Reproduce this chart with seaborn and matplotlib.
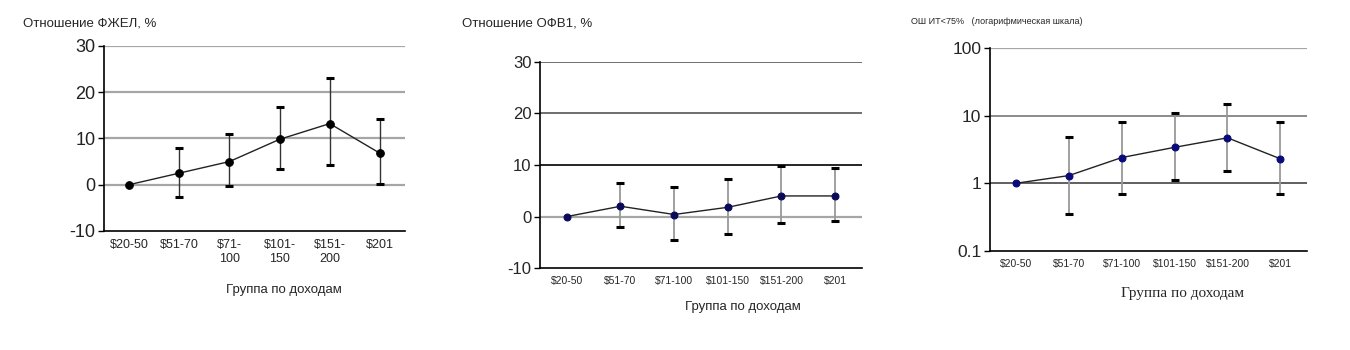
import matplotlib
matplotlib.use("Agg")
import matplotlib.pyplot as plt
import seaborn as sns
import numpy as np
import pandas as pd

# ---- data ----
groups1 = ["$20-50", "$51-70", "$71-\n100", "$101-\n150", "$151-\n200", "$201"]
groups = ["$20-50", "$51-70", "$71-100", "$101-150", "$151-200", "$201"]

fvc = [0.0, 2.5, 5.0, 9.8, 13.2, 6.8]
fvc_lo = [0.0, -2.7, -0.2, 3.5, 4.2, 0.2]
fvc_hi = [0.0, 8.0, 11.0, 16.8, 23.0, 14.2]

fev = [0.0, 2.0, 0.4, 1.8, 4.0, 4.0]
fev_lo = [0.0, -2.1, -4.5, -3.3, -1.3, -0.9]
fev_hi = [0.0, 6.6, 5.8, 7.3, 9.8, 9.5]

orr = [1.0, 1.3, 2.4, 3.4, 4.7, 2.3]
orr_lo = [1.0, 0.35, 0.7, 1.12, 1.5, 0.7]
orr_hi = [1.0, 4.9, 8.0, 11.0, 15.0, 8.0]

sns.set_style("white")
plt.rcParams['font.family'] = ['Liberation Sans', 'DejaVu Sans']
plt.rcParams['axes.unicode_minus'] = False

fig = plt.figure(figsize=(13.5, 3.5), dpi=100)

def setup_x(ax, labels, fs):
    ax.set_xlim(-0.5, 5.5)
    ax.set_xticks(range(len(labels)))
    ax.set_xticklabels(labels, fontsize=fs)
    ax.tick_params(axis='x', which='major', length=0, pad=6)
    ax.set_xticks(np.arange(-0.5, 6.0, 1.0), minor=True)
    ax.tick_params(axis='x', which='minor', length=4, width=1, color='black', direction='out')
    for s in ['top', 'right']:
        ax.spines[s].set_visible(False)
    for s in ['left', 'bottom']:
        ax.spines[s].set_color('black')
        ax.spines[s].set_linewidth(1.2)
    ax.tick_params(axis='y', length=4, width=1, color='black', direction='out', left=True)

def draw(ax, vals, lo, hi, mcolor, ecolor, capcolor, ms, elw):
    df = pd.DataFrame({"g": list(range(len(vals))), "v": vals})
    x = np.arange(len(vals))
    v = np.array(vals); l = np.array(lo); h = np.array(hi)
    idx = x[1:]
    eb = ax.errorbar(idx, v[1:], yerr=[v[1:] - l[1:], h[1:] - v[1:]], fmt='none',
                     ecolor=ecolor, elinewidth=elw, capsize=3, capthick=2.2, zorder=3)
    for c in eb[1]:
        c.set_color(capcolor)
        c.set_markeredgecolor(capcolor)
        c.set_markerfacecolor(capcolor)
    sns.lineplot(data=df, x="g", y="v", ax=ax, color='#222222', linewidth=1,
                 marker='o', markersize=ms, markerfacecolor=mcolor,
                 markeredgecolor=mcolor, zorder=4)
    ax.set_xlabel("")
    ax.set_ylabel("")

# ---- panel 1 ----
ax1 = fig.add_axes([0.077, 0.34, 0.223, 0.529])
for yv in [0, 10, 20, 30]:
    ax1.axhline(yv, color='#a6a6a6', linewidth=1.6, zorder=1)
draw(ax1, fvc, fvc_lo, fvc_hi, 'black', '#333333', 'black', 5.5, 1.0)
ax1.set_ylim(-10, 30)
ax1.set_yticks([-10, 0, 10, 20, 30])
ax1.tick_params(axis='y', labelsize=13, pad=2)
setup_x(ax1, groups1, 9)
for t in ax1.get_yticklabels():
    t.set_color('#222222')
fig.text(0.017, 0.933, "Отношение ФЖЕЛ, %", fontsize=9.5, va='center', ha='left')
fig.text(0.21, 0.172, "Группа по доходам", fontsize=9.5, va='center', ha='center')

# ---- panel 2 ----
ax2 = fig.add_axes([0.4, 0.234, 0.2385, 0.589])
ax2.axhline(30, color='#555555', linewidth=1.2, zorder=1)
ax2.axhline(20, color='#555555', linewidth=1.2, zorder=1)
ax2.axhline(10, color='black', linewidth=1.2, zorder=1)
ax2.axhline(0, color='#a6a6a6', linewidth=1.6, zorder=1)
draw(ax2, fev, fev_lo, fev_hi, '#0a0a5a', '#999999', 'black', 5, 1.3)
ax2.set_ylim(-10, 30)
ax2.set_yticks([-10, 0, 10, 20, 30])
ax2.tick_params(axis='y', labelsize=12, pad=2)
setup_x(ax2, groups, 7.5)
fig.text(0.342, 0.933, "Отношение ОФВ1, %", fontsize=9.5, va='center', ha='left')
fig.text(0.55, 0.123, "Группа по доходам", fontsize=9.5, va='center', ha='center')

# ---- panel 3 ----
ax3 = fig.add_axes([0.733, 0.283, 0.235, 0.58])
ax3.set_yscale('log')
ax3.axhline(100, color='#a6a6a6', linewidth=1.6, zorder=1)
ax3.axhline(10, color='#777777', linewidth=1.2, zorder=1)
ax3.axhline(1, color='#444444', linewidth=1.2, zorder=1)
draw(ax3, orr, orr_lo, orr_hi, '#0a0a7a', '#999999', 'black', 5, 1.3)
ax3.set_ylim(0.1, 100)
ax3.set_yticks([0.1, 1, 10, 100])
ax3.set_yticklabels(["0.1", "1", "10", "100"])
ax3.yaxis.set_minor_locator(matplotlib.ticker.NullLocator())
ax3.tick_params(axis='y', labelsize=12.5, pad=2)
setup_x(ax3, groups, 7.5)
fig.text(0.675, 0.94, "ОШ ИТ<75%   (логарифмическая шкала)", fontsize=6.5, va='center', ha='left')
fig.text(0.876, 0.16, "Группа по доходам", fontsize=11, va='center', ha='center',
         family=['Liberation Serif', 'DejaVu Serif'])

fig.savefig("out.png", dpi=100)
